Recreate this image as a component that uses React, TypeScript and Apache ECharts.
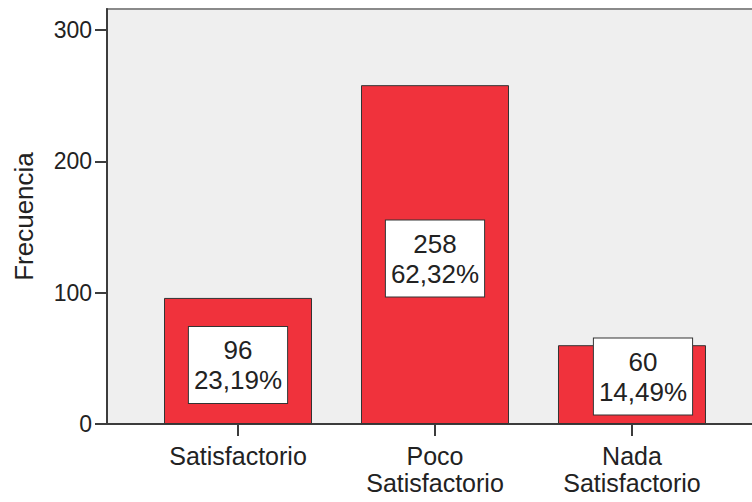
import React, { useEffect, useRef } from "react";
import * as echarts from "echarts";

const categories = ["Satisfactorio", "Poco\nSatisfactorio", "Nada\nSatisfactorio"];
const counts = [96, 258, 60];
const percents = ["23,19%", "62,32%", "14,49%"];
const yTicks = [0, 100, 200, 300];
const axisTitle = "Frecuencia";

export default function App() {
  const ref = useRef<HTMLDivElement>(null);
  useEffect(() => {
    if (!ref.current) return;
    const chart = echarts.init(ref.current, null, { renderer: "svg" });
    const font = "'Liberation Sans', Arial, sans-serif";
    const positions = categories.map((_, i) => i);
    const labelOffsets = [[0, 4], [0, 4], [11, -8]];
    chart.setOption({
      animation: false,
      backgroundColor: "#ffffff",
      grid: {
        left: 107,
        right: 0,
        top: 9,
        bottom: 78,
        show: true,
        backgroundColor: "#efefef",
        borderColor: "#8a8a8a",
        borderWidth: 2,
      },
      xAxis: {
        type: "value",
        min: -0.665,
        max: 2.665,
        splitLine: { show: false },
        axisLine: { show: true, onZero: false, lineStyle: { color: "#3c3c3c", width: 2 } },
        axisTick: {
          show: true,
          customValues: positions,
          length: 12,
          lineStyle: { color: "#3c3c3c", width: 2 },
        },
        axisLabel: {
          customValues: positions,
          formatter: (v: number) => categories[Math.round(v)] ?? "",
          fontFamily: font,
          fontSize: 25,
          lineHeight: 27,
          color: "#222",
          margin: 18,
        },
      },
      yAxis: {
        type: "value",
        min: 0,
        max: 316,
        name: axisTitle,
        nameLocation: "middle",
        nameGap: 70,
        nameTextStyle: { fontFamily: font, fontSize: 26, color: "#222" },
        splitLine: { show: false },
        axisLine: { show: true, onZero: false, lineStyle: { color: "#3c3c3c", width: 2 } },
        axisTick: {
          show: true,
          customValues: yTicks,
          length: 12,
          lineStyle: { color: "#3c3c3c", width: 2 },
        },
        axisLabel: {
          customValues: yTicks,
          fontFamily: font,
          fontSize: 23,
          color: "#222",
          margin: 15,
        },
      },
      series: [
        {
          type: "bar",
          barWidth: 148,
          data: counts.map((c, i) => ({
            value: [i, c],
            label: { offset: labelOffsets[i] },
          })),
          itemStyle: { color: "#f0323c", borderColor: "#333", borderWidth: 1 },
          label: {
            show: true,
            position: "inside",
            formatter: (p: any) => `${counts[p.dataIndex]}\n${percents[p.dataIndex]}`,
            fontFamily: font,
            fontSize: 26,
            lineHeight: 30,
            color: "#222",
            backgroundColor: "#ffffff",
            borderColor: "#333",
            borderWidth: 1,
            padding: [8, 5, 8, 5],
            align: "center",
          },
        },
      ],
    });
    return () => chart.dispose();
  }, []);
  return (
    <div
      ref={ref}
      style={{ position: "fixed", left: 0, top: 0, width: 763, height: 502 }}
    />
  );
}
